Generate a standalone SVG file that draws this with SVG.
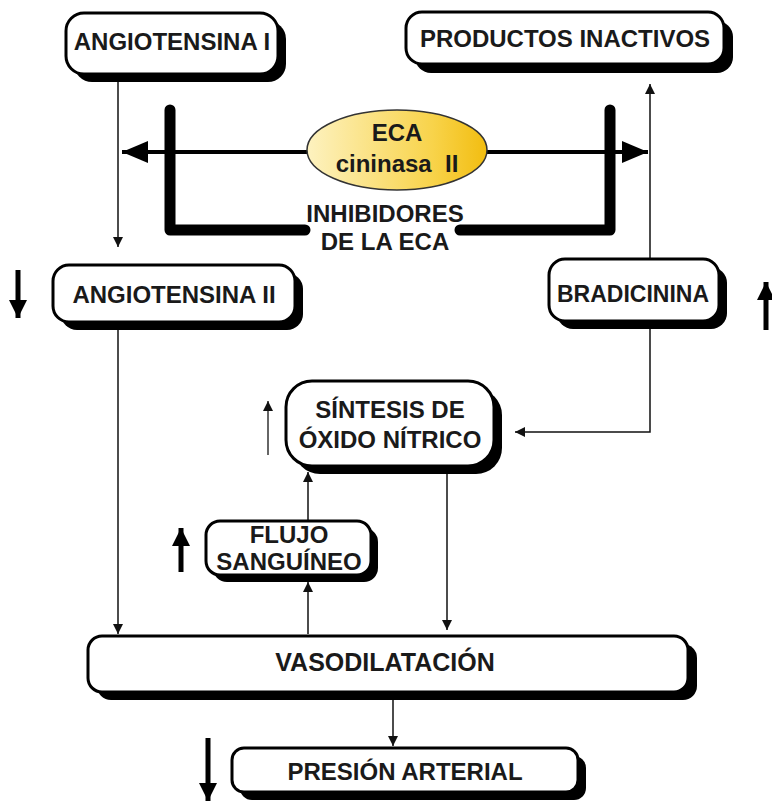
<svg xmlns="http://www.w3.org/2000/svg" width="772" height="803" viewBox="0 0 772 803">
<defs>
<style>
.sh{fill:#000}
.bx{fill:#fff;stroke:#000;stroke-width:3}
.t{font-family:"Liberation Sans",Arial,sans-serif;font-weight:bold;font-size:24px;fill:#1a1a1a;text-anchor:middle}
.thin{stroke:#111;stroke-width:1.5;fill:none}
.big{stroke:#000;stroke-width:5;fill:none}
</style>
<linearGradient id="yg" x1="0" y1="0" x2="1" y2="0">
<stop offset="0" stop-color="#fdf2c0"/>
<stop offset="0.7" stop-color="#f8d34a"/>
<stop offset="1" stop-color="#f2bd10"/>
</linearGradient>
<marker id="ah" viewBox="0 0 10 10" refX="10" refY="5" markerWidth="10" markerHeight="10" markerUnits="userSpaceOnUse" orient="auto">
<path d="M0,0 L10,5 L0,10 z" fill="#111"/>
</marker>
<marker id="bh" viewBox="0 0 10 10" refX="10" refY="5" markerWidth="18" markerHeight="18" markerUnits="userSpaceOnUse" orient="auto">
<path d="M0,0 L10,5 L0,10 z" fill="#000"/>
</marker>
<marker id="eh" viewBox="0 0 10 10" refX="10" refY="5" markerWidth="26" markerHeight="22" markerUnits="userSpaceOnUse" orient="auto" preserveAspectRatio="none">
<path d="M0,0 L10,5 L0,10 z" fill="#000"/>
</marker>
</defs>

<g id="connectors">
<line class="thin" x1="118" y1="80" x2="118" y2="247" marker-end="url(#ah)"/>
<line class="thin" x1="650" y1="258" x2="650" y2="84" marker-end="url(#ah)"/>
<line class="thin" x1="118" y1="330" x2="118" y2="634" marker-end="url(#ah)"/>
<polyline class="thin" points="650,328 650,432 515,432" marker-end="url(#ah)"/>
<line class="thin" x1="447" y1="472" x2="447" y2="630" marker-end="url(#ah)"/>
<line class="thin" x1="308" y1="520" x2="308" y2="472" marker-end="url(#ah)"/>
<line class="thin" x1="308" y1="634" x2="308" y2="582" marker-end="url(#ah)"/>
<line class="thin" x1="393" y1="700" x2="393" y2="746" marker-end="url(#ah)"/>
<line x1="150" y1="152" x2="122" y2="152" stroke="#000" stroke-width="4" marker-end="url(#eh)"/>
<line x1="140" y1="152" x2="648" y2="152" stroke="#000" stroke-width="4" marker-end="url(#eh)"/>
<path d="M170,110 V230 H305 M460,230 H610 V110" stroke="#000" stroke-width="11" fill="none" stroke-linecap="round" stroke-linejoin="round"/>
<line class="big" x1="18" y1="270" x2="18" y2="318" marker-end="url(#bh)"/>
<line class="big" x1="766" y1="330" x2="766" y2="282" marker-end="url(#bh)"/>
<line class="big" x1="181" y1="572" x2="181" y2="528" marker-end="url(#bh)"/>
<line class="big" x1="208" y1="738" x2="208" y2="801" marker-end="url(#bh)"/>
<line x1="268" y1="455" x2="268" y2="401" stroke="#666" stroke-width="2" marker-end="url(#ah)"/>
</g>

<g id="eca">
<ellipse cx="397" cy="150" rx="90" ry="40" fill="url(#yg)" stroke="#333" stroke-width="1.5"/>
<text class="t" x="397" y="141">ECA</text>
<text class="t" x="397" y="172" xml:space="preserve">cininasa  II</text>
</g>

<g id="inhibidores">
<text class="t" x="385" y="222">INHIBIDORES</text>
<text class="t" x="385" y="250">DE LA ECA</text>
</g>

<g id="angiotensina1">
<rect class="sh" x="74" y="21" width="212" height="61" rx="18"/>
<rect class="bx" x="66" y="13" width="212" height="61" rx="18"/>
<text class="t" x="172" y="50">ANGIOTENSINA I</text>
</g>

<g id="productos">
<rect class="sh" x="415" y="21" width="318" height="52" rx="16"/>
<rect class="bx" x="406" y="12" width="318" height="52" rx="16"/>
<text class="t" x="565" y="47">PRODUCTOS INACTIVOS</text>
</g>

<g id="angiotensina2">
<rect class="sh" x="61" y="273" width="242" height="57" rx="16"/>
<rect class="bx" x="53" y="265" width="242" height="57" rx="16"/>
<text class="t" x="174" y="303">ANGIOTENSINA II</text>
</g>

<g id="bradicinina">
<rect class="sh" x="557" y="267" width="170" height="62" rx="16"/>
<rect class="bx" x="549" y="259" width="170" height="62" rx="16"/>
<text class="t" x="633" y="302" style="font-size:23px">BRADICININA</text>
</g>

<g id="sintesis">
<rect class="sh" x="294" y="389" width="208" height="85" rx="26"/>
<rect class="bx" x="286" y="381" width="208" height="85" rx="26"/>
<text class="t" x="390" y="418">SÍNTESIS DE</text>
<text class="t" x="390" y="448">ÓXIDO NÍTRICO</text>
</g>

<g id="flujo">
<rect class="sh" x="213" y="528" width="165" height="54" rx="14"/>
<rect class="bx" x="206" y="521" width="165" height="54" rx="14"/>
<text class="t" x="289" y="543">FLUJO</text>
<text class="t" x="289" y="570">SANGUÍNEO</text>
</g>

<g id="vasodilatacion">
<rect class="sh" x="97" y="644" width="600" height="56" rx="14"/>
<rect class="bx" x="88" y="636" width="600" height="56" rx="14"/>
<text class="t" x="385" y="671" style="font-size:25px">VASODILATACIÓN</text>
</g>

<g id="presion">
<rect class="sh" x="240" y="756" width="346" height="44" rx="12"/>
<rect class="bx" x="232" y="748" width="346" height="44" rx="12"/>
<text class="t" x="405" y="780">PRESIÓN ARTERIAL</text>
</g>
</svg>
